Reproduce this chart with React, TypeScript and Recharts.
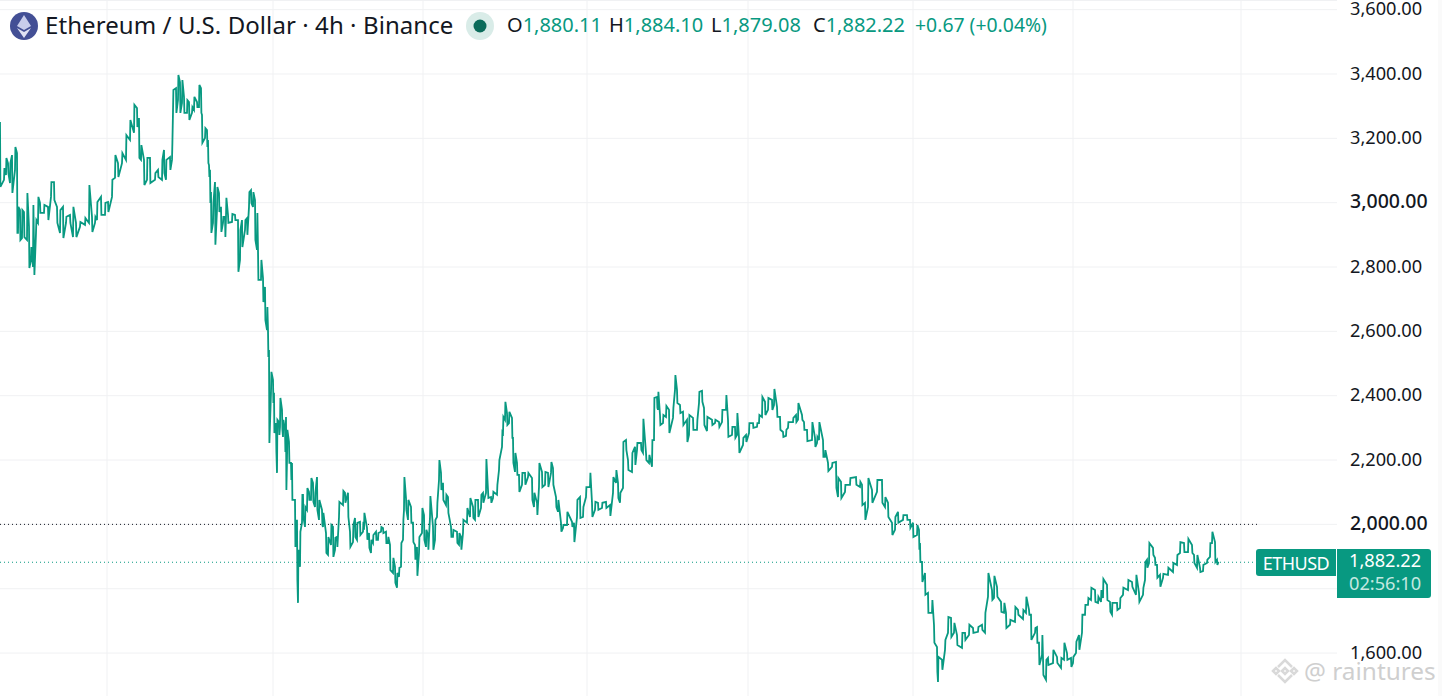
import { CartesianGrid, ComposedChart, Line, ReferenceLine, XAxis, YAxis } from "recharts";

const barIndex = [
  0, 4, 6, 8, 10, 12, 15, 17, 18, 20,
  22, 24, 27, 29, 31, 33, 34, 36, 38, 40,
  44, 48, 51, 54, 57, 60, 63, 66, 70, 73,
  76, 80, 85, 89, 92, 95, 97, 101, 105, 108,
  112, 115, 118, 122, 126, 130, 134, 137, 139, 141,
  144, 147, 150, 155, 158, 162, 164, 166, 170, 172,
  173, 176, 178, 180, 182, 184, 187, 189, 192, 194,
  197, 199, 201, 202, 205, 207, 208, 209, 210, 211,
  213, 215, 217, 219, 221, 223, 225, 226, 228, 232,
  235, 238, 240, 242, 245, 247, 249, 251, 253, 255,
  257, 258, 261, 263, 265, 267, 268, 269, 271, 273,
  274, 276, 277, 279, 280, 282, 283, 285, 286, 287,
  289, 291, 292, 295, 297, 298, 300, 302, 303, 305,
  307, 309, 311, 313, 315, 317, 319, 322, 323, 326,
  328, 331, 333, 335, 337, 339, 343, 345, 348, 350,
  353, 355, 357, 360, 363, 364, 367, 369, 371, 373,
  376, 378, 381, 383, 386, 388, 390, 393, 395, 397,
  399, 401, 403, 404, 406, 408, 411, 413, 415, 417,
  419, 422, 424, 426, 428, 430, 433, 435, 437, 439,
  441, 443, 446, 448, 451, 453, 457, 459, 461, 463,
  467, 470, 473, 475, 478, 481, 483, 486, 488, 491,
  493, 497, 499, 502, 503, 505, 507, 509, 512, 513,
  515, 517, 519, 522, 525, 528, 532, 534, 537, 539,
  542, 545, 548, 551, 553, 556, 558, 561, 563, 567,
  572, 574, 577, 580, 583, 586, 590, 592, 595, 598,
  602, 606, 610, 613, 616, 618, 620, 623, 626, 628,
  632, 635, 637, 641, 643, 646, 649, 652, 654, 657,
  658, 660, 663, 666, 669, 673, 675, 677, 680, 683,
  687, 689, 693, 697, 699, 702, 704, 707, 712, 715,
  719, 722, 726, 728, 732, 735, 737, 739, 743, 746,
  749, 753, 757, 759, 762, 765, 768, 772, 774, 777,
  780, 783, 786, 788, 793, 796, 798, 802, 804, 807,
  812, 815, 817, 819, 823, 825, 828, 832, 836, 838,
  841, 845, 850, 856, 860, 862, 865, 868, 872, 877,
  882, 885, 888, 892, 895, 898, 903, 907, 910, 913,
  917, 919, 920, 922, 925, 928, 932, 934, 937, 938,
  942, 945, 948, 951, 954, 957, 962, 965, 969, 973,
  978, 982, 985, 988, 992, 994, 997, 1001, 1004, 1006,
  1010, 1015, 1018, 1023, 1026, 1029, 1031, 1035, 1037, 1039,
  1042, 1043, 1046, 1048, 1053, 1057, 1061, 1064, 1067, 1071,
  1073, 1076, 1079, 1082, 1085, 1088, 1091, 1095, 1098, 1101,
  1103, 1107, 1110, 1112, 1117, 1120, 1123, 1128, 1132, 1136,
  1139, 1143, 1145, 1147, 1149, 1153, 1155, 1157, 1160, 1163,
  1168, 1173, 1177, 1180, 1184, 1188, 1192, 1194, 1197, 1200,
  1203, 1207, 1210, 1212, 1215, 1217, 1218,
];

const highs = [
  3251, 3108, 3139, 3123, 3123, 3148, 3173, 3154, 2987, 2977,
  2977, 2971, 3030, 2925, 2862, 2993, 2862, 2946, 3018, 2999,
  2993, 2987, 3064, 3064, 2987, 2977, 2987, 2956, 2962, 2987,
  2937, 2940, 2952, 3055, 2956, 2956, 3002, 3018, 2999, 3002,
  3071, 3148, 3123, 3154, 3210, 3257, 3304, 3294, 3263, 3179,
  3133, 3139, 3139, 3092, 3102, 3133, 3164, 3133, 3142, 3186,
  3350, 3356, 3397, 3375, 3381, 3329, 3319, 3313, 3297, 3329,
  3313, 3366, 3356, 3273, 3232, 3226, 3195, 3117, 3102, 3033,
  2999, 3064, 3049, 3030, 2987, 2956, 2956, 3015, 2962, 2965,
  2962, 2946, 2915, 2946, 2946, 2952, 3033, 3039, 3033, 3008,
  2968, 2853, 2822, 2766, 2738, 2676, 2604, 2542, 2474, 2449,
  2409, 2315, 2325, 2318, 2393, 2356, 2325, 2294, 2334, 2294,
  2256, 2191, 2191, 2076, 2014, 1921, 1977, 2092, 2092, 2054,
  2113, 2101, 2144, 2129, 2098, 2147, 2076, 2045, 2036, 1973,
  1961, 1998, 1992, 1958, 1961, 2070, 2104, 2098, 2098, 1977,
  1998, 2020, 2005, 2008, 2008, 2036, 1989, 1973, 1952, 1967,
  1977, 1973, 1992, 1989, 1977, 1961, 1936, 1896, 1868, 1849,
  1865, 1942, 2014, 2147, 2082, 2076, 2054, 2005, 1936, 1930,
  1961, 2051, 2029, 1983, 1967, 2088, 1992, 2014, 2067, 2200,
  2160, 2129, 2092, 2085, 1992, 1983, 1977, 1973, 1961, 2014,
  2051, 2082, 2054, 2076, 2076, 2092, 2098, 2203, 2107, 2085,
  2101, 2123, 2200, 2287, 2334, 2381, 2346, 2350, 2331, 2269,
  2222, 2191, 2154, 2160, 2160, 2160, 2144, 2098, 2067, 2191,
  2163, 2163, 2160, 2194, 2175, 2085, 2076, 2005, 1998, 2039,
  2008, 2005, 2076, 2085, 2054, 2116, 2160, 2067, 2070, 2067,
  2067, 2070, 2060, 2147, 2169, 2129, 2098, 2256, 2262, 2200,
  2222, 2241, 2253, 2253, 2328, 2222, 2216, 2262, 2393, 2396,
  2412, 2340, 2340, 2368, 2356, 2362, 2464, 2418, 2371, 2350,
  2325, 2340, 2331, 2325, 2412, 2415, 2362, 2334, 2325, 2325,
  2318, 2356, 2402, 2325, 2303, 2303, 2346, 2269, 2269, 2278,
  2315, 2315, 2315, 2340, 2396, 2381, 2393, 2387, 2421, 2365,
  2334, 2287, 2294, 2318, 2331, 2340, 2377, 2340, 2318, 2294,
  2318, 2269, 2272, 2318, 2262, 2231, 2191, 2191, 2194, 2144,
  2132, 2123, 2144, 2147, 2132, 2123, 2067, 2144, 2107, 2138,
  2138, 2085, 2067, 2005, 2023, 2039, 2029, 2029, 2014, 2005,
  1998, 1983, 1942, 1883, 1849, 1787, 1765, 1687, 1619, 1588,
  1579, 1641, 1712, 1709, 1694, 1656, 1663, 1663, 1688, 1678,
  1681, 1688, 1725, 1849, 1796, 1840, 1806, 1759, 1756, 1725,
  1703, 1743, 1734, 1734, 1775, 1734, 1719, 1678, 1681, 1632,
  1656, 1585, 1579, 1585, 1610, 1588, 1585, 1632, 1600, 1585,
  1588, 1635, 1656, 1719, 1750, 1771, 1803, 1796, 1775, 1796,
  1830, 1812, 1759, 1756, 1756, 1771, 1803, 1827, 1821, 1843,
  1787, 1803, 1883, 1890, 1942, 1927, 1896, 1874, 1843, 1846,
  1865, 1880, 1905, 1945, 1942, 1955, 1936, 1905, 1905, 1865,
  1874, 1890, 1942, 1977, 1945, 1890, 1884,
];

const lows = [
  3049, 3071, 3086, 3092, 3061, 3030, 3102, 2906, 2906, 2884,
  2890, 2893, 2884, 2797, 2822, 2800, 2775, 2906, 2937, 2968,
  2968, 2946, 3018, 3008, 2937, 2906, 2890, 2937, 2937, 2893,
  2893, 2925, 2931, 2937, 2909, 2937, 2946, 2962, 2962, 2971,
  3018, 3077, 3080, 3123, 3133, 3195, 3217, 3235, 3139, 3133,
  3055, 3071, 3061, 3071, 3080, 3071, 3092, 3071, 3102, 3133,
  3282, 3279, 3319, 3279, 3310, 3279, 3279, 3257, 3279, 3288,
  3297, 3297, 3279, 3186, 3201, 3173, 3123, 3080, 2999, 2906,
  2937, 2869, 2977, 2971, 2909, 2937, 2893, 2956, 2937, 2940,
  2946, 2785, 2822, 2862, 2915, 2900, 2987, 2999, 2987, 2884,
  2853, 2760, 2760, 2691, 2635, 2604, 2520, 2253, 2409, 2377,
  2284, 2225, 2160, 2278, 2303, 2294, 2272, 2225, 2107, 2200,
  2191, 2138, 2076, 1930, 1827, 1756, 1868, 2005, 2023, 1992,
  2045, 2076, 2076, 2070, 2054, 2045, 2014, 1998, 1992, 1911,
  1905, 1936, 1899, 1921, 1930, 2023, 2060, 2067, 2023, 1930,
  1945, 1961, 1952, 1967, 1977, 1983, 1952, 1927, 1911, 1942,
  1952, 1952, 1977, 1973, 1942, 1942, 1858, 1849, 1818, 1803,
  1837, 1868, 1952, 2045, 2045, 2014, 2005, 1945, 1890, 1840,
  1911, 1973, 1952, 1930, 1921, 2023, 1921, 1952, 2023, 2138,
  2107, 2076, 2060, 2036, 1961, 1961, 1942, 1936, 1921, 1973,
  2005, 2023, 2020, 2014, 2023, 2051, 2067, 2098, 2082, 2067,
  2082, 2092, 2169, 2241, 2284, 2325, 2309, 2315, 2269, 2191,
  2163, 2154, 2101, 2123, 2123, 2147, 2076, 2054, 2029, 2116,
  2116, 2123, 2116, 2160, 2123, 2054, 2039, 1977, 1989, 1998,
  1992, 1945, 2023, 2020, 2023, 2085, 2116, 2023, 2045, 2045,
  2051, 2051, 2026, 2098, 2129, 2082, 2067, 2113, 2231, 2169,
  2163, 2185, 2231, 2231, 2222, 2200, 2191, 2179, 2262, 2362,
  2356, 2309, 2315, 2334, 2284, 2331, 2418, 2377, 2346, 2309,
  2256, 2278, 2294, 2294, 2377, 2381, 2309, 2290, 2309, 2315,
  2303, 2318, 2356, 2272, 2278, 2269, 2278, 2222, 2247, 2256,
  2284, 2300, 2303, 2315, 2334, 2340, 2356, 2356, 2371, 2334,
  2294, 2272, 2275, 2300, 2318, 2318, 2325, 2325, 2294, 2259,
  2262, 2241, 2253, 2262, 2210, 2210, 2166, 2179, 2113, 2085,
  2082, 2101, 2123, 2123, 2116, 2060, 2014, 2054, 2067, 2101,
  2067, 2054, 2023, 1967, 1983, 2005, 2014, 2014, 1989, 1961,
  1967, 1921, 1883, 1821, 1781, 1725, 1725, 1632, 1541, 1510,
  1548, 1610, 1663, 1650, 1663, 1625, 1616, 1641, 1656, 1663,
  1666, 1672, 1663, 1775, 1765, 1771, 1775, 1728, 1725, 1678,
  1688, 1697, 1719, 1706, 1725, 1719, 1641, 1663, 1632, 1563,
  1594, 1532, 1517, 1563, 1569, 1569, 1554, 1579, 1579, 1557,
  1569, 1600, 1610, 1663, 1719, 1750, 1765, 1759, 1756, 1759,
  1771, 1765, 1728, 1719, 1734, 1740, 1781, 1796, 1806, 1781,
  1759, 1781, 1827, 1865, 1880, 1905, 1874, 1834, 1806, 1834,
  1843, 1852, 1874, 1911, 1914, 1914, 1911, 1880, 1865, 1852,
  1855, 1880, 1899, 1942, 1883, 1874, 1879,
];

const priceTicks = [3600, 3400, 3200, 3000, 2800, 2600, 2400, 2200, 2000, 1800, 1600];
const boldPrices = [3000, 2000];
// 1,800.00 sits behind the last price tag on the original
const hiddenPrices = [1800];
const timeTicks = [107, 273, 423, 587, 748, 913, 1073, 1241];

const TITLE = "Ethereum / U.S. Dollar · 4h · Binance";
const LEGEND = [
  { label: "O", value: "1,880.11" },
  { label: "H", value: "1,884.10" },
  { label: "L", value: "1,879.08" },
  { label: "C", value: "1,882.22" },
];
const CHANGE = "+0.67 (+0.04%)";
const LAST_PRICE = 1882.22;
const ROUND_LEVEL = 2000;

const UP = "#089981";
const GRID = "#f0f1f3";
const FONT = "'Noto Sans', Tahoma, sans-serif";

// each bar goes out as two points so the line zigzags between high and low
function buildPath() {
  const rows: { bar: number; price: number }[] = [];
  let last = highs[0];
  barIndex.forEach((bar, i) => {
    const highFirst = Math.abs(last - highs[i]) < Math.abs(last - lows[i]);
    const first = highFirst ? highs[i] : lows[i];
    const second = highFirst ? lows[i] : highs[i];
    rows.push({ bar, price: first });
    rows.push({ bar: bar + 0.4, price: second });
    last = second;
  });
  return rows;
}

const chartData = buildPath();

function PriceTick({ x, y, payload }: any) {
  if (hiddenPrices.includes(payload.value)) return null;
  const bold = boldPrices.includes(payload.value);
  return (
    <text
      x={x + 5}
      y={y + 5.8}
      fontSize={bold ? 19.5 : 18.2}
      fontFamily={FONT}
      fontWeight={bold ? 500 : 400}
      fill="#131722"
    >
      {payload.value.toLocaleString("en-US", { minimumFractionDigits: 2 })}
    </text>
  );
}

export default function App() {
  return (
    <div
      style={{
        position: "absolute",
        left: 0,
        top: 0,
        width: 1442,
        height: 696,
        overflow: "hidden",
        background: "#fff",
        fontFamily: FONT,
      }}
    >
      <ComposedChart
        width={1442}
        height={696}
        data={chartData}
        margin={{ top: 0, right: 0, bottom: 0, left: 0 }}
      >
        <CartesianGrid stroke={GRID} vertical={false} syncWithTicks />
        <XAxis type="number" dataKey="bar" domain={[0, 1337]} ticks={timeTicks} hide />
        <YAxis
          orientation="right"
          width={105}
          domain={[1466.5, 3630]}
          ticks={priceTicks}
          interval={0}
          axisLine={false}
          tickLine={false}
          tick={PriceTick}
        />
        {timeTicks.map((bar) => (
          <ReferenceLine key={bar} x={bar} stroke={GRID} />
        ))}
        <ReferenceLine
          segment={[
            { x: 0, y: ROUND_LEVEL },
            { x: 1258, y: ROUND_LEVEL },
          ]}
          stroke="#131722"
          strokeDasharray="1 3"
        />
        <ReferenceLine
          segment={[
            { x: 0, y: LAST_PRICE },
            { x: 1258, y: LAST_PRICE },
          ]}
          stroke={UP}
          strokeDasharray="1 3"
        />
        <Line
          type="linear"
          dataKey="price"
          stroke={UP}
          strokeWidth={1.8}
          dot={false}
          isAnimationActive={false}
        />
      </ComposedChart>

      <div style={{ position: "absolute", left: 0, top: 0, width: 1337, height: 1, background: GRID }} />
      <div style={{ position: "absolute", left: 1438, top: 0, width: 4, height: 696, background: "#fafafa" }} />

      <svg width={36} height={36} style={{ position: "absolute", left: 6, top: 8 }}>
        <circle cx={18} cy={18} r={14} fill="#434f95" />
        <polygon points="18,7 25,18 18,22 11,18" fill="#c9cdeb" />
        <polygon points="18,24 25,20 18,30 11,20" fill="#dfe1f3" />
      </svg>
      <div
        style={{
          position: "absolute",
          left: 45,
          top: 8,
          fontSize: 24,
          lineHeight: "34px",
          letterSpacing: 0.08,
          color: "#131722",
          whiteSpace: "nowrap",
        }}
      >
        {TITLE}
      </div>
      <svg width={30} height={30} style={{ position: "absolute", left: 465, top: 11 }}>
        <circle cx={15} cy={15} r={14} fill="#d9ece8" />
        <circle cx={15} cy={15} r={6.5} fill="#0b6b5a" />
      </svg>
      <div
        style={{
          position: "absolute",
          left: 507,
          top: 11,
          fontSize: 20,
          lineHeight: "28px",
          whiteSpace: "nowrap",
          display: "flex",
          color: UP,
        }}
      >
        {LEGEND.map((item) => (
          <span key={item.label} style={{ width: 102 }}>
            <span style={{ color: "#131722" }}>{item.label}</span>
            {item.value}
          </span>
        ))}
        <span style={{ fontSize: 19.4 }}>{CHANGE}</span>
      </div>

      <div
        style={{
          position: "absolute",
          left: 1256,
          top: 549,
          width: 80,
          height: 27,
          background: UP,
          borderRadius: "3px 0 0 3px",
          color: "#fff",
          fontSize: 18,
          letterSpacing: -0.5,
          lineHeight: "28px",
          textAlign: "center",
        }}
      >
        ETHUSD
      </div>
      <div
        style={{
          position: "absolute",
          left: 1337,
          top: 549,
          width: 94,
          height: 49,
          background: UP,
          borderRadius: "0 3px 3px 0",
          color: "#fff",
          fontSize: 18.2,
          lineHeight: "23px",
          paddingLeft: 12,
          boxSizing: "border-box",
        }}
      >
        <div>{LAST_PRICE.toLocaleString("en-US")}</div>
        <div style={{ color: "#c4e8e0" }}>02:56:10</div>
      </div>

      <svg width={30} height={30} style={{ position: "absolute", left: 1271, top: 656 }}>
        <g fill="none" stroke="#d9d9d9" strokeWidth={2.5}>
          <path d="M7 11 L14 4 L21 11" />
          <path d="M7 19 L14 26 L21 19" />
          <path d="M2 15 L5 12 L8 15 L5 18 Z" />
          <path d="M20 15 L23 12 L26 15 L23 18 Z" />
          <path d="M11 15 L14 12 L17 15 L14 18 Z" />
        </g>
      </svg>
      <div
        style={{
          position: "absolute",
          left: 1304,
          top: 654,
          fontSize: 24.4,
          lineHeight: "34px",
          color: "#cfcfcf",
          whiteSpace: "nowrap",
        }}
      >
        @ raintures
      </div>
    </div>
  );
}
